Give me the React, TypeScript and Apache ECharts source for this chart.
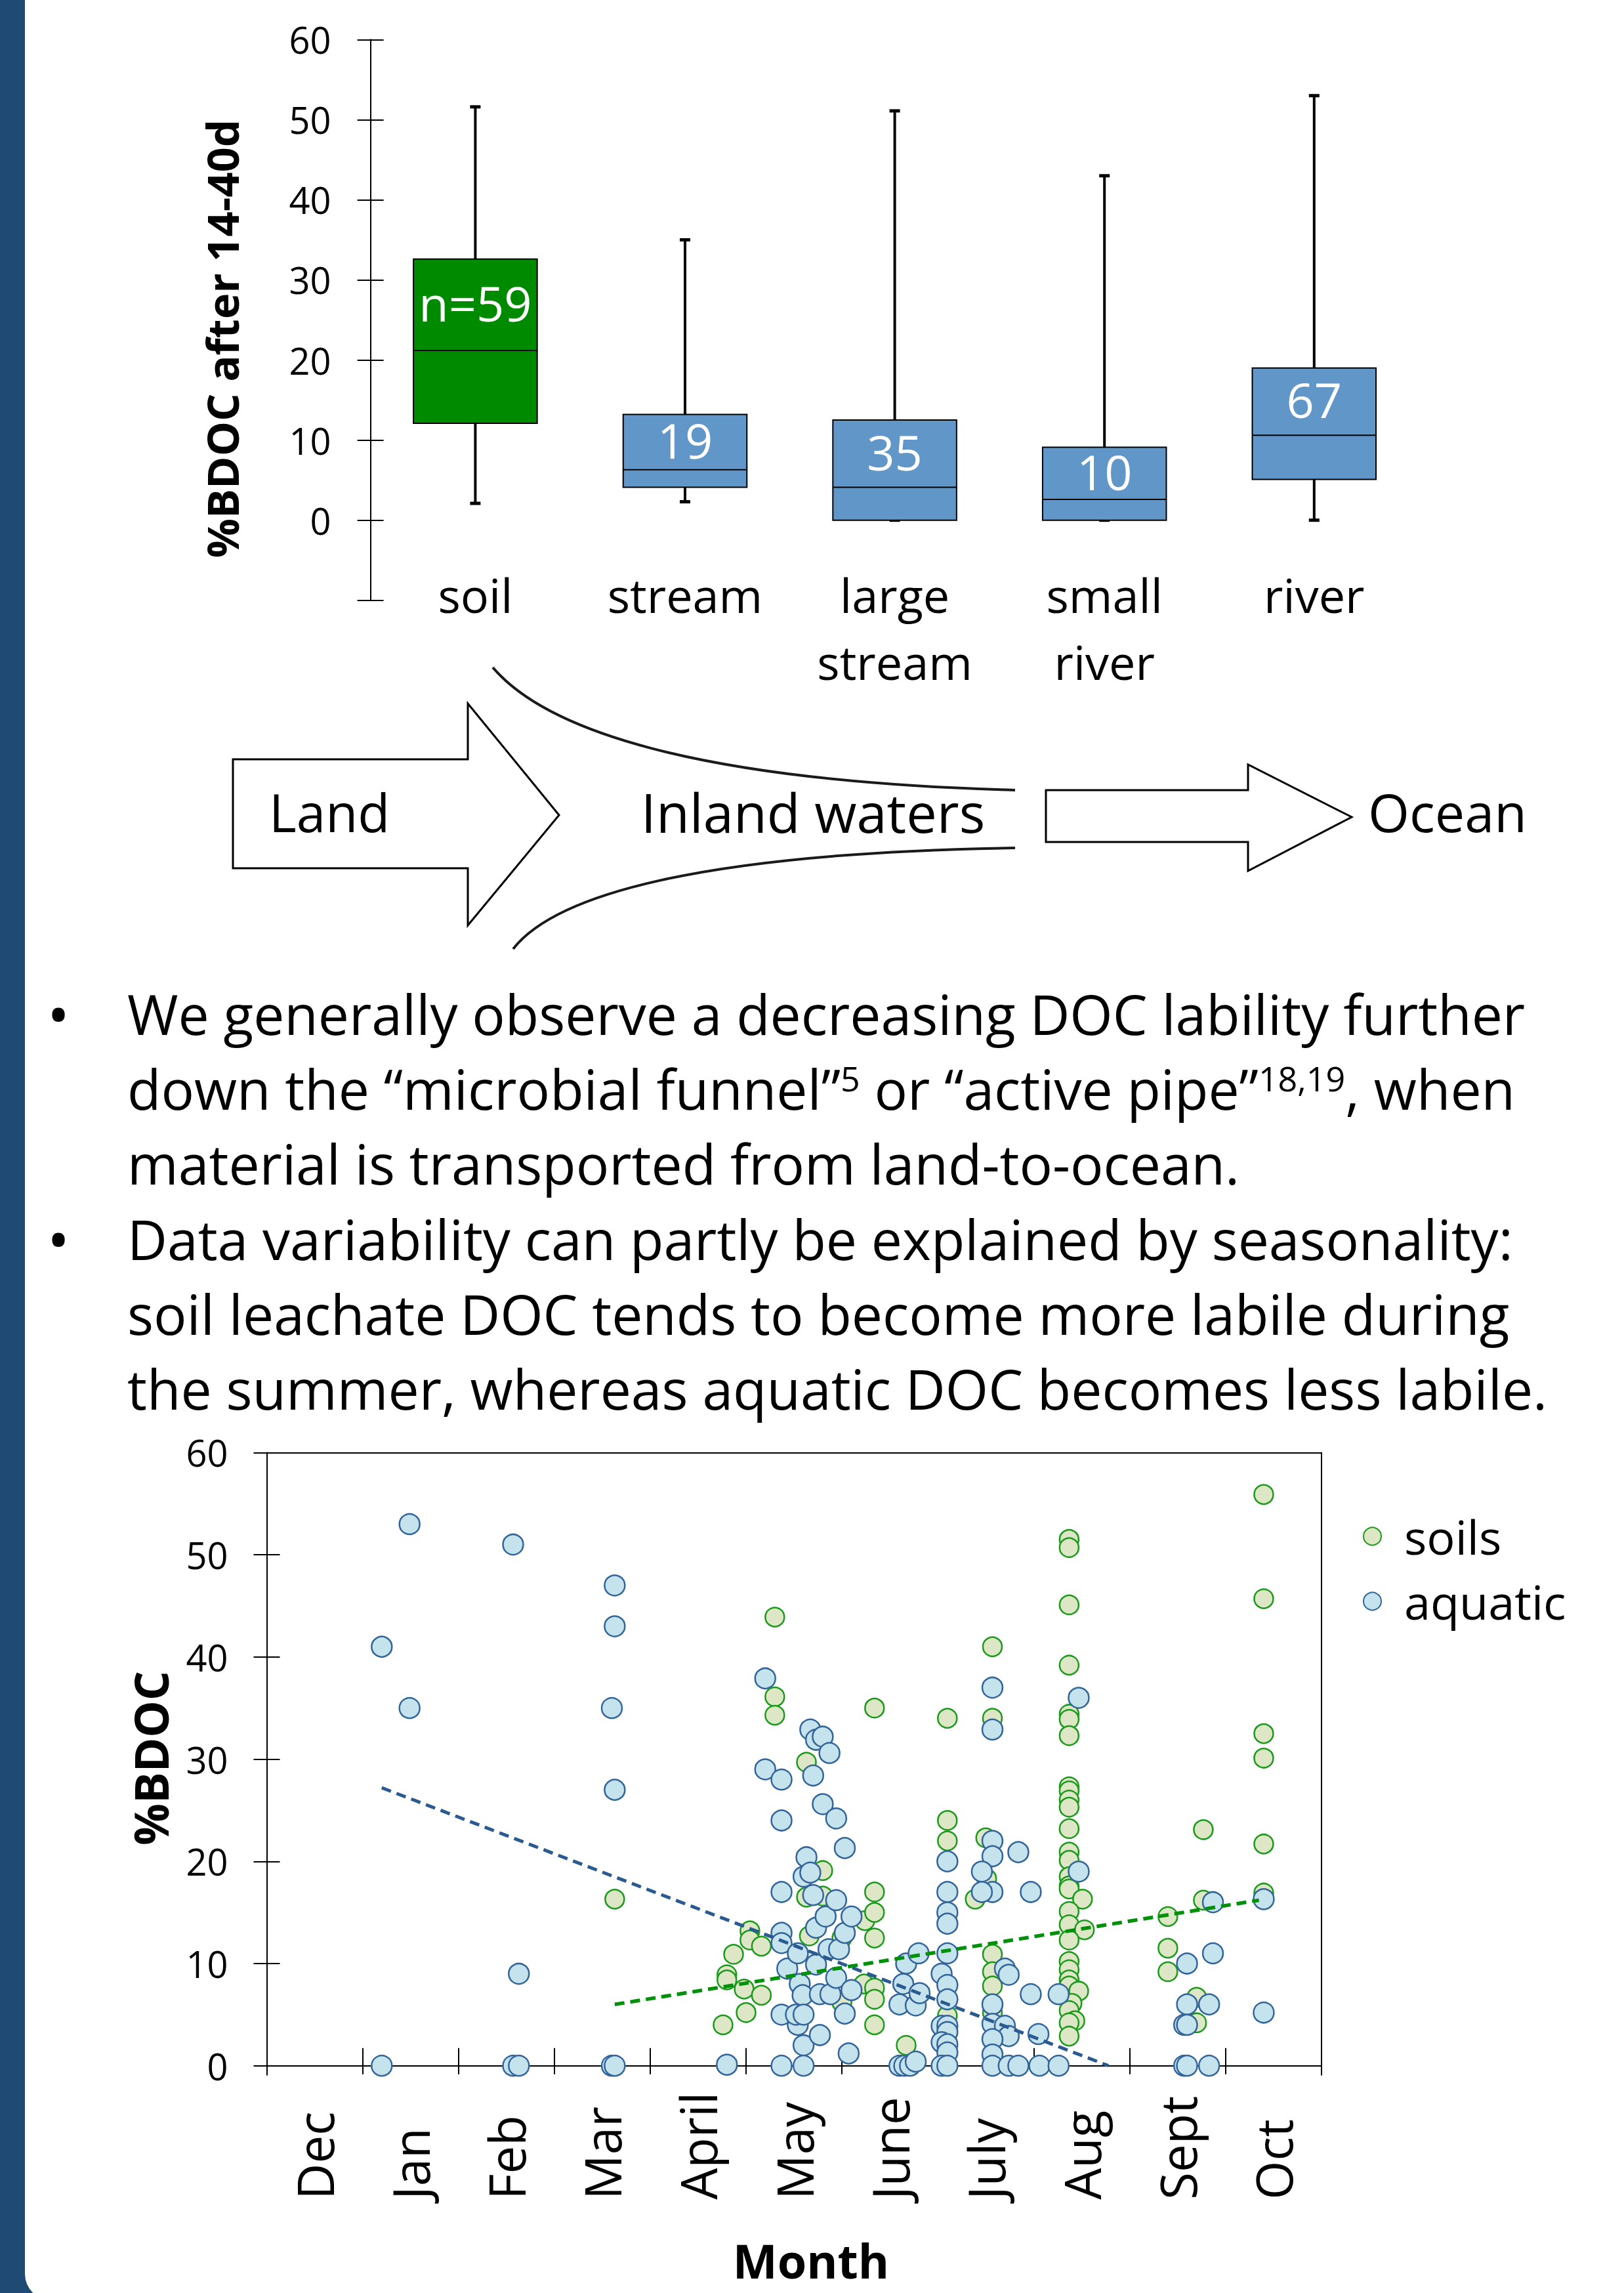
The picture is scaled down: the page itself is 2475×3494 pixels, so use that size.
import { useEffect, useRef } from 'react';
import * as echarts from 'echarts';

const FONT = "'Open Sans', 'DejaVu Sans', sans-serif";

// ---------- top box plot data ----------
const boxCategories = ['soil', 'stream', 'large\nstream', 'small\nriver', 'river'];
const boxMin = [2.1, 2.3, 0, 0, 0];
const boxQ1 = [12.1, 4.1, 0, 0, 5.1];
const boxMedian = [21.2, 6.3, 4.1, 2.6, 10.6];
const boxQ3 = [32.6, 13.2, 12.5, 9.1, 19.0];
const boxMax = [51.6, 35.0, 51.1, 43.0, 53.0];
const boxN = ['n=59', '19', '35', '10', '67'];
const boxTicks = [0, 10, 20, 30, 40, 50, 60];

// ---------- scatter data (x = months since start of Dec, y = %BDOC) ----------
const months = ['Dec', 'Jan', 'Feb', 'Mar', 'April', 'May', 'June', 'July', 'Aug', 'Sept', 'Oct'];
const scatterTicks = [0, 10, 20, 30, 40, 50, 60];

const soils: number[][] = [
  [3.63, 16.3], [4.76, 4.0], [4.8, 8.9], [4.8, 8.4], [4.87, 10.9], [4.98, 7.5], [5.0, 5.2], [5.04, 13.2], [5.04, 12.3],
  [5.16, 11.7], [5.16, 6.9], [5.3, 43.9], [5.3, 36.1], [5.3, 34.3], [5.63, 29.7], [5.8, 19.1], [5.63, 16.5], [5.8, 16.6],
  [5.66, 12.7], [6.0, 12.5], [6.0, 6.2], [6.23, 8.0], [6.24, 14.2], [6.34, 35.0], [6.34, 17.0], [6.34, 15.0], [6.34, 12.5],
  [6.34, 7.6], [6.34, 6.5], [6.34, 4.0], [6.67, 2.0],
  [7.1, 34.0], [7.1, 24.0], [7.1, 22.0], [7.1, 4.9],
  [7.57, 41.0], [7.57, 34.0], [7.5, 22.3], [7.51, 18.3], [7.39, 16.3], [7.57, 10.9], [7.57, 9.2], [7.57, 7.8], [7.57, 5.2],
  [8.37, 51.5], [8.37, 50.7], [8.37, 45.1], [8.37, 39.2], [8.37, 34.4], [8.37, 33.9], [8.37, 32.3], [8.37, 27.3], [8.37, 26.9],
  [8.37, 26.0], [8.37, 25.3], [8.37, 23.2], [8.37, 20.9], [8.37, 20.1], [8.37, 18.5], [8.37, 17.6], [8.37, 17.3], [8.51, 16.3],
  [8.37, 15.1], [8.37, 13.8], [8.53, 13.3], [8.37, 12.3], [8.37, 10.2], [8.37, 9.4], [8.37, 8.4], [8.37, 7.8], [8.47, 7.3],
  [8.4, 6.1], [8.37, 5.4], [8.43, 4.4], [8.37, 4.2], [8.37, 2.9],
  [9.4, 14.6], [9.4, 11.5], [9.4, 9.2], [9.7, 6.7], [9.7, 4.2], [9.77, 23.1], [9.77, 16.2],
  [10.4, 55.9], [10.4, 45.7], [10.4, 32.5], [10.4, 30.1], [10.4, 21.7], [10.4, 16.9],
];

const aquatic: number[][] = [
  [1.2, 41.0], [1.49, 53.0], [1.49, 35.0], [1.2, 0],
  [2.57, 51.0], [2.63, 9.0], [2.57, 0], [2.63, 0],
  [3.63, 47.0], [3.63, 43.0], [3.6, 35.0], [3.63, 27.0], [3.6, 0], [3.63, 0],
  [4.8, 0.1],
  [5.2, 37.9], [5.2, 29.0], [5.37, 28.0], [5.37, 24.0], [5.37, 17.0], [5.37, 13.0], [5.37, 12.0], [5.37, 5.0], [5.37, 0],
  [5.43, 9.5], [5.54, 11.0], [5.54, 4.0], [5.52, 5.0], [5.56, 8.0], [5.59, 6.9], [5.6, 5.0], [5.6, 2.0], [5.6, 0],
  [5.6, 18.5], [5.63, 20.4], [5.67, 32.9], [5.67, 18.9], [5.7, 28.4], [5.7, 16.7], [5.73, 31.9], [5.73, 13.5], [5.73, 9.9],
  [5.77, 7.0], [5.77, 3.0], [5.8, 32.2], [5.8, 25.6], [5.83, 14.6], [5.86, 11.4], [5.87, 30.6], [5.88, 7.0], [5.94, 24.2],
  [5.94, 16.2], [5.94, 8.6], [5.97, 11.4], [6.03, 21.3], [6.03, 13.0], [6.03, 5.1], [6.07, 1.2], [6.1, 14.6], [6.1, 7.4],
  [6.6, 6.0], [6.6, 0], [6.64, 8.0], [6.65, 0], [6.67, 10.0], [6.71, 0], [6.77, 0.4], [6.77, 5.9], [6.8, 11.0], [6.81, 7.1],
  [7.1, 20.0], [7.1, 17.0], [7.1, 15.0], [7.1, 13.9], [7.1, 11.0], [7.04, 9.0], [7.1, 7.9], [7.1, 6.5], [7.04, 3.9],
  [7.1, 3.9], [7.1, 3.3], [7.04, 2.3], [7.1, 2.1], [7.1, 1.3], [7.04, 0], [7.1, 0],
  [7.57, 37.0], [7.57, 32.9], [7.57, 22.0], [7.57, 20.5], [7.46, 19.0], [7.57, 17.0], [7.46, 17.0], [7.84, 20.9],
  [7.97, 17.0], [7.7, 9.5], [7.74, 8.9], [7.97, 7.0], [7.57, 6.0], [7.57, 4.1], [7.7, 3.9], [7.74, 2.9], [7.57, 2.6],
  [7.57, 1.1], [7.57, 0], [7.74, 0], [7.84, 0], [8.05, 3.1], [8.06, 0],
  [8.47, 36.0], [8.47, 19.0], [8.26, 7.0], [8.26, 0],
  [9.6, 10.0], [9.87, 11.0], [9.87, 16.0], [9.6, 6.0], [9.83, 6.0], [9.57, 4.0], [9.6, 4.0], [9.57, 0], [9.6, 0], [9.83, 0],
  [10.4, 16.3], [10.4, 5.2],
];

const soilTrend = [[3.63, 6.0], [10.35, 16.2]];
const aquaticTrend = [[1.2, 27.2], [8.78, 0]];

const bulletLines = [
  'We generally observe a decreasing DOC lability further',
  'down the “microbial funnel”{sup|5} or “active pipe”{sup|18,19}, when',
  'material is transported from land-to-ocean.',
  'Data variability can partly be explained by seasonality:',
  'soil leachate DOC tends to become more labile during',
  'the summer, whereas aquatic DOC becomes less labile.',
];

const SOIL_BOX = '#008A00';
const AQ_BOX = '#6196C9';

function buildOption() {
  const txt = (text: string, x: number, y: number, size: number, extra: any = {}) => ({
    type: 'text',
    x,
    y,
    z: 10,
    style: { text, fontSize: size, fontFamily: FONT, fill: '#000', align: 'left', verticalAlign: 'middle', ...extra },
  });

  const lineCenters = [1544, 1658, 1772, 1887, 2001, 2115];
  const bulletTexts = bulletLines.map((t, i) => ({
    type: 'text',
    x: 194,
    y: lineCenters[i],
    z: 10,
    style: {
      text: t,
      fontSize: 84,
      lineHeight: 84,
      fontFamily: FONT,
      fill: '#000',
      align: 'left',
      verticalAlign: 'middle',
      rich: { sup: { fontSize: 52, lineHeight: 68, verticalAlign: 'top', fontFamily: FONT, fill: '#000' } },
    },
  }));

  const graphicElements: any[] = [
    { type: 'rect', z: -100, shape: { x: 0, y: 0, width: 90, height: 3494 }, style: { fill: '#1F4A73' } },
    { type: 'rect', z: -99, shape: { x: 38, y: -20, width: 2500, height: 3525, r: [0, 0, 0, 40] }, style: { fill: '#fff' } },
    // Land arrow
    {
      type: 'polygon', z: 5,
      shape: { points: [[355, 1157], [713, 1157], [713, 1072], [852, 1242], [713, 1410], [713, 1323], [355, 1323]] },
      style: { fill: '#fff', stroke: '#000', lineWidth: 3 },
    },
    // Ocean arrow
    {
      type: 'polygon', z: 5,
      shape: { points: [[1594, 1204], [1902, 1204], [1902, 1165], [2060, 1245], [1902, 1327], [1902, 1283], [1594, 1283]] },
      style: { fill: '#fff', stroke: '#000', lineWidth: 3 },
    },
    // funnel curves
    {
      type: 'bezierCurve', z: 5,
      shape: { x1: 751, y1: 1017, cpx1: 830, cpy1: 1110, cpx2: 1050, cpy2: 1190, x2: 1547, y2: 1204 },
      style: { stroke: '#1a1a1a', lineWidth: 4, fill: null },
    },
    {
      type: 'bezierCurve', z: 5,
      shape: { x1: 782, y1: 1446, cpx1: 845, cpy1: 1365, cpx2: 1060, cpy2: 1300, x2: 1547, y2: 1292 },
      style: { stroke: '#1a1a1a', lineWidth: 4, fill: null },
    },
    txt('Land', 410, 1236, 80),
    txt('Inland waters', 1239, 1236, 83, { align: 'center' }),
    txt('Ocean', 2206, 1236, 81, { align: 'center' }),
    txt('•', 89, lineCenters[0], 92, { align: 'center' }),
    txt('•', 89, lineCenters[3], 92, { align: 'center' }),
    ...bulletTexts,
    // axis titles
    { ...txt('%BDOC after 14-40d', 338, 516, 67, { align: 'center', fontWeight: 'bold' }), rotation: Math.PI / 2 },
    { ...txt('%BDOC', 229, 2679, 71, { align: 'center', fontWeight: 'bold' }), rotation: Math.PI / 2 },
    txt('Month', 1236, 3444, 72, { align: 'center', fontWeight: 'bold' }),
  ];

  const blackLine = { show: true, lineStyle: { color: '#000', width: 2 } };

  return {
    animation: false,
    backgroundColor: '#fff',
    textStyle: { fontFamily: FONT, color: '#000' },
    grid: [
      { left: 564.6, top: 60.3, width: 1598, height: 854.4 },
      { left: 406.5, top: 2213.4, width: 1607.1, height: 948.3 },
    ],
    legend: {
      data: ['soils', 'aquatic'],
      orient: 'vertical',
      left: 2072,
      top: 2300,
      itemWidth: 27,
      itemHeight: 27,
      itemGap: 27,
      icon: 'circle',
      textStyle: { fontSize: 72, lineHeight: 72, color: '#000', fontFamily: FONT, padding: [0, 0, 0, 30] },
    },
    xAxis: [
      {
        type: 'category', gridIndex: 0, data: boxCategories, position: 'bottom',
        axisLine: { show: false, onZero: false }, axisTick: { show: false },
        axisLabel: { fontSize: 72, lineHeight: 102, margin: -60, interval: 0, color: '#000', fontFamily: FONT },
        splitLine: { show: false },
      },
      {
        type: 'value', gridIndex: 1, min: 0, max: 11, interval: 1, position: 'bottom',
        axisLine: { ...blackLine, onZero: true },
        axisTick: { show: true, inside: false, length: 13, lineStyle: { color: '#000', width: 2 } },
        axisLabel: { show: false }, splitLine: { show: false },
      },
      {
        type: 'category', gridIndex: 1, data: months, position: 'bottom', boundaryGap: true,
        axisLine: { show: false, onZero: true },
        axisTick: { show: true, inside: true, length: 27, interval: 0, lineStyle: { color: '#000', width: 2 } },
        axisLabel: { rotate: 90, align: 'left', margin: 190, fontSize: 76, interval: 0, color: '#000', fontFamily: FONT },
        splitLine: { show: false },
      },
      {
        type: 'value', gridIndex: 1, min: 0, max: 11, position: 'top',
        axisLine: { ...blackLine, onZero: false }, axisTick: { show: false }, axisLabel: { show: false }, splitLine: { show: false },
      },
    ],
    yAxis: [
      {
        type: 'value', gridIndex: 0, min: -10, max: 60, interval: 10, position: 'left',
        axisLine: blackLine,
        axisTick: { show: true, inside: false, length: 20, lineStyle: { color: '#000', width: 2 } },
        axisLabel: { customValues: boxTicks, fontSize: 56, margin: 60, color: '#000', fontFamily: FONT },
        splitLine: { show: false },
      },
      {
        type: 'value', gridIndex: 0, min: -10, max: 60, interval: 10, position: 'left',
        axisLine: { show: false },
        axisTick: { show: true, inside: true, length: 20, lineStyle: { color: '#000', width: 2 } },
        axisLabel: { show: false }, splitLine: { show: false },
      },
      {
        type: 'value', gridIndex: 1, min: -0.9, max: 60, position: 'left',
        axisLine: blackLine,
        axisTick: { show: true, inside: false, length: 20, customValues: scatterTicks, lineStyle: { color: '#000', width: 2 } },
        axisLabel: { customValues: scatterTicks, fontSize: 56, margin: 59, color: '#000', fontFamily: FONT },
        splitLine: { show: false },
      },
      {
        type: 'value', gridIndex: 1, min: -0.9, max: 60, position: 'left',
        axisLine: { show: false },
        axisTick: { show: true, inside: true, length: 20, customValues: scatterTicks, lineStyle: { color: '#000', width: 2 } },
        axisLabel: { show: false }, splitLine: { show: false },
      },
      {
        type: 'value', gridIndex: 1, min: -0.9, max: 60, position: 'right',
        axisLine: { ...blackLine, onZero: false }, axisTick: { show: false }, axisLabel: { show: false }, splitLine: { show: false },
      },
    ],
    series: [
      {
        type: 'custom',
        xAxisIndex: 0,
        yAxisIndex: 0,
        data: boxCategories.map((_, i) => [i, boxMin[i], boxQ1[i], boxMedian[i], boxQ3[i], boxMax[i]]),
        encode: { x: 0, y: [1, 2, 3, 4, 5] },
        renderItem: (params: any, api: any) => {
          const i = api.value(0);
          const pMin = api.coord([i, api.value(1)]);
          const pQ1 = api.coord([i, api.value(2)]);
          const pMed = api.coord([i, api.value(3)]);
          const pQ3 = api.coord([i, api.value(4)]);
          const pMax = api.coord([i, api.value(5)]);
          const w = api.size([1, 0])[0] * 0.59;
          const cx = pMed[0];
          const cap = 8;
          const fill = i === 0 ? SOIL_BOX : AQ_BOX;
          const labelY = api.coord([i, (api.value(3) + api.value(4)) / 2])[1];
          return {
            type: 'group',
            children: [
              { type: 'line', shape: { x1: cx, y1: pMax[1], x2: cx, y2: pMin[1] }, style: { stroke: '#000', lineWidth: 4 } },
              { type: 'line', shape: { x1: cx - cap, y1: pMax[1], x2: cx + cap, y2: pMax[1] }, style: { stroke: '#000', lineWidth: 5 } },
              { type: 'line', shape: { x1: cx - cap, y1: pMin[1], x2: cx + cap, y2: pMin[1] }, style: { stroke: '#000', lineWidth: 5 } },
              {
                type: 'rect',
                shape: { x: cx - w / 2, y: pQ3[1], width: w, height: pQ1[1] - pQ3[1] },
                style: { fill, stroke: '#000', lineWidth: 2 },
              },
              { type: 'line', shape: { x1: cx - w / 2, y1: pMed[1], x2: cx + w / 2, y2: pMed[1] }, style: { stroke: '#000', lineWidth: 2 } },
              {
                type: 'text', x: cx, y: labelY - 3,
                style: { text: boxN[i], fill: '#fff', fontSize: 74, fontFamily: FONT, align: 'center', verticalAlign: 'middle' },
              },
            ],
          };
        },
      },
      {
        name: 'soils', type: 'scatter', xAxisIndex: 1, yAxisIndex: 2, data: soils, symbolSize: 29, z: 3,
        itemStyle: { color: '#DDE7C6', borderColor: '#1B9A1B', borderWidth: 2.5, opacity: 1 },
      },
      {
        name: 'aquatic', type: 'scatter', xAxisIndex: 1, yAxisIndex: 2, data: aquatic, symbolSize: 31, z: 4,
        itemStyle: { color: '#C4E3EC', borderColor: '#33659B', borderWidth: 2.5, opacity: 1 },
      },
      {
        name: 'soil trend', type: 'line', xAxisIndex: 1, yAxisIndex: 2, data: soilTrend, symbol: 'none', z: 6, silent: true,
        lineStyle: { color: '#00900A', width: 5.5, type: [15, 9] },
      },
      {
        name: 'aquatic trend', type: 'line', xAxisIndex: 1, yAxisIndex: 2, data: aquaticTrend, symbol: 'none', z: 6, silent: true,
        lineStyle: { color: '#2A5A90', width: 5, type: [15, 9] },
      },
    ],
    graphic: { elements: graphicElements },
  };
}

export default function App() {
  const ref = useRef<HTMLDivElement>(null);
  useEffect(() => {
    document.body.style.margin = '0';
    const chart = echarts.init(ref.current!, null, { renderer: 'svg', width: 2475, height: 3494 });
    chart.setOption(buildOption() as any);
    return () => chart.dispose();
  }, []);
  return <div ref={ref} style={{ width: 2475, height: 3494, background: '#fff' }} />;
}
